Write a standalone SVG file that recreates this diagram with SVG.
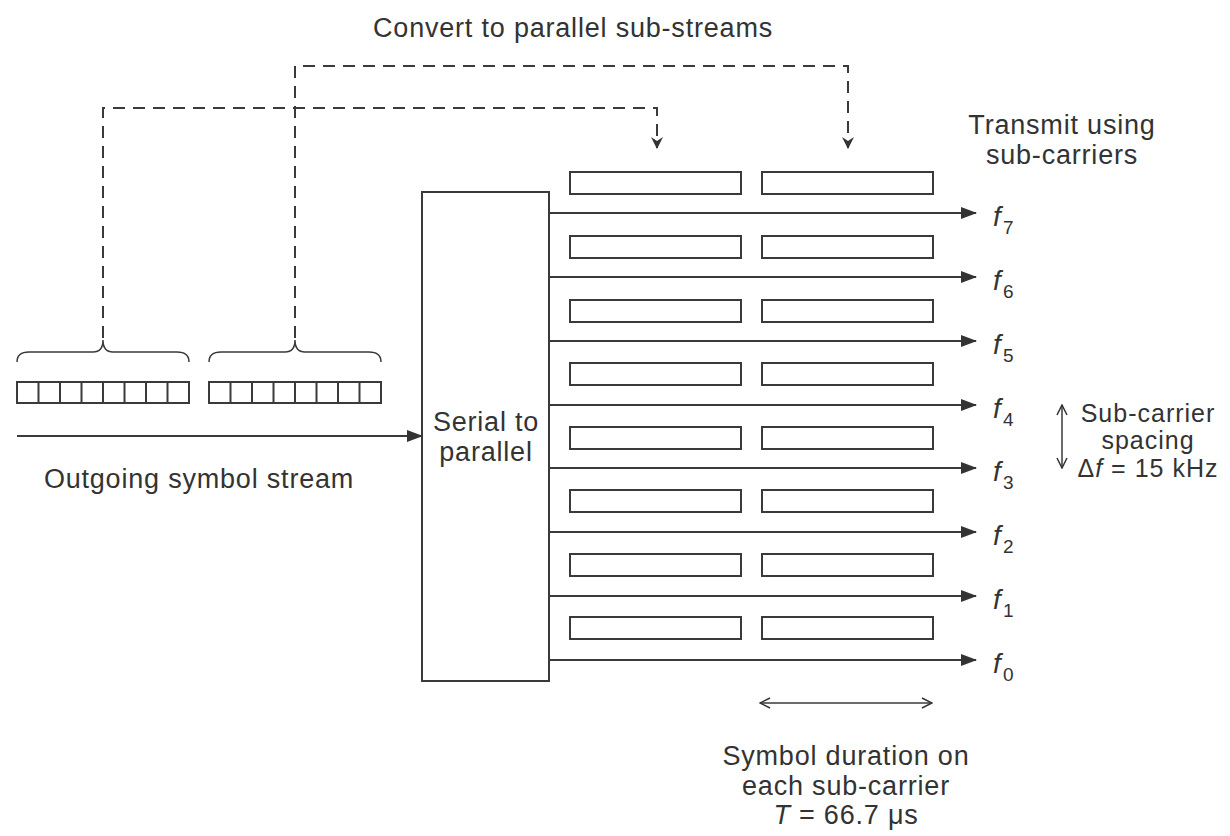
<svg xmlns="http://www.w3.org/2000/svg" width="1230" height="836" viewBox="0 0 1230 836">
<defs>
<style>
.t{font-family:"Liberation Sans",Arial,sans-serif;font-size:27px;letter-spacing:0.8px;fill:#333;}
.t2{font-family:"Liberation Sans",Arial,sans-serif;font-size:25px;letter-spacing:1px;fill:#333;}
.m{text-anchor:middle;}
.f{font-family:"Liberation Sans",Arial,sans-serif;font-style:italic;font-size:28px;fill:#333;}
.s{font-family:"Liberation Sans",Arial,sans-serif;font-size:19px;fill:#333;}
.ln{stroke:#3a3a3a;stroke-width:2;fill:none;}
.bx{stroke:#3a3a3a;stroke-width:2;fill:#fff;}
.ds{stroke:#3a3a3a;stroke-width:2;fill:none;stroke-dasharray:12 8;}
.thin{stroke:#3a3a3a;stroke-width:1.5;fill:none;}
</style>
<marker id="ah" markerWidth="16" markerHeight="12" refX="15" refY="6" orient="auto" markerUnits="userSpaceOnUse">
<path d="M0,0 L16,6 L0,12 Z" fill="#333"/>
</marker>
<marker id="dh" markerWidth="12" markerHeight="12" refX="11" refY="6" orient="auto" markerUnits="userSpaceOnUse">
<path d="M0,0 L12,6 L0,12 L4,6 Z" fill="#333"/>
</marker>
<marker id="oh" markerWidth="12" markerHeight="12" refX="11" refY="6" orient="auto-start-reverse" markerUnits="userSpaceOnUse">
<path d="M1,1 L11,6 L1,11" fill="none" stroke="#333" stroke-width="1.5"/>
</marker>
</defs>
<rect width="1230" height="836" fill="#fff"/>

<text class="t m" x="573" y="37">Convert to parallel sub-streams</text>

<g id="connectors">
<path class="ds" d="M295,338 V66 H848 V148" marker-end="url(#dh)"/>
<path class="ds" d="M103,338 V108 H657 V148" marker-end="url(#dh)"/>
<line class="ln" x1="17" y1="436" x2="422" y2="436" marker-end="url(#ah)"/>
<line class="ln" x1="549" y1="213" x2="976" y2="213" marker-end="url(#ah)"/>
<line class="ln" x1="549" y1="277" x2="976" y2="277" marker-end="url(#ah)"/>
<line class="ln" x1="549" y1="341" x2="976" y2="341" marker-end="url(#ah)"/>
<line class="ln" x1="549" y1="405" x2="976" y2="405" marker-end="url(#ah)"/>
<line class="ln" x1="549" y1="468" x2="976" y2="468" marker-end="url(#ah)"/>
<line class="ln" x1="549" y1="532" x2="976" y2="532" marker-end="url(#ah)"/>
<line class="ln" x1="549" y1="596" x2="976" y2="596" marker-end="url(#ah)"/>
<line class="ln" x1="549" y1="660" x2="976" y2="660" marker-end="url(#ah)"/>
<line class="thin" x1="760" y1="703" x2="932" y2="703" marker-start="url(#oh)" marker-end="url(#oh)"/>
<line class="thin" x1="1062" y1="405" x2="1062" y2="468" marker-start="url(#oh)" marker-end="url(#oh)"/>
</g>

<g id="stream1">
<path class="thin" d="M17,362 Q17,352 29,352 H93 Q103,352 103,340 Q103,352 113,352 H177 Q189,352 189,362"/>
<rect class="bx" x="17" y="382" width="172" height="21"/>
<path class="ln" d="M38.5,382 V403 M60,382 V403 M81.5,382 V403 M103,382 V403 M124.5,382 V403 M146,382 V403 M167.5,382 V403"/>
</g>
<g id="stream2">
<path class="thin" d="M209,362 Q209,352 221,352 H285 Q295,352 295,340 Q295,352 305,352 H369 Q381,352 381,362"/>
<rect class="bx" x="209" y="382" width="172" height="21"/>
<path class="ln" d="M230.5,382 V403 M252,382 V403 M273.5,382 V403 M295,382 V403 M316.5,382 V403 M338,382 V403 M359.5,382 V403"/>
</g>
<text class="t m" x="199" y="488">Outgoing symbol stream</text>

<g id="serial-to-parallel">
<rect class="bx" x="422" y="192" width="127" height="489"/>
<text class="t m" x="486" y="431">Serial to</text>
<text class="t m" x="486" y="461">parallel</text>
</g>

<g id="substreams">
<rect class="bx" x="570" y="172" width="171" height="22"/><rect class="bx" x="762" y="172" width="171" height="22"/>
<rect class="bx" x="570" y="236" width="171" height="22"/><rect class="bx" x="762" y="236" width="171" height="22"/>
<rect class="bx" x="570" y="300" width="171" height="22"/><rect class="bx" x="762" y="300" width="171" height="22"/>
<rect class="bx" x="570" y="363" width="171" height="22"/><rect class="bx" x="762" y="363" width="171" height="22"/>
<rect class="bx" x="570" y="427" width="171" height="22"/><rect class="bx" x="762" y="427" width="171" height="22"/>
<rect class="bx" x="570" y="490" width="171" height="22"/><rect class="bx" x="762" y="490" width="171" height="22"/>
<rect class="bx" x="570" y="554" width="171" height="22"/><rect class="bx" x="762" y="554" width="171" height="22"/>
<rect class="bx" x="570" y="617" width="171" height="22"/><rect class="bx" x="762" y="617" width="171" height="22"/>
</g>

<g id="carrier-labels">
<text class="f" x="993" y="226">f</text><text class="s" x="1003" y="234">7</text>
<text class="f" x="993" y="290">f</text><text class="s" x="1003" y="298">6</text>
<text class="f" x="993" y="354">f</text><text class="s" x="1003" y="362">5</text>
<text class="f" x="993" y="418">f</text><text class="s" x="1003" y="426">4</text>
<text class="f" x="993" y="481">f</text><text class="s" x="1003" y="489">3</text>
<text class="f" x="993" y="545">f</text><text class="s" x="1003" y="553">2</text>
<text class="f" x="993" y="609">f</text><text class="s" x="1003" y="617">1</text>
<text class="f" x="993" y="673">f</text><text class="s" x="1003" y="681">0</text>
</g>

<g id="transmit-label">
<text class="t m" x="1062" y="134">Transmit using</text>
<text class="t m" x="1062" y="164">sub-carriers</text>
</g>

<g id="spacing-label">
<text class="t2 m" x="1148" y="422">Sub-carrier</text>
<text class="t2 m" x="1148" y="449">spacing</text>
<text class="t2 m" x="1148" y="477"><tspan>Δ</tspan><tspan font-style="italic">f</tspan> = 15 kHz</text>
</g>

<g id="duration-label">
<text class="t m" x="846" y="765">Symbol duration on</text>
<text class="t m" x="846" y="795">each sub-carrier</text>
<text class="t m" x="846" y="824"><tspan font-style="italic">T</tspan> = 66.7 μs</text>
</g>
</svg>
